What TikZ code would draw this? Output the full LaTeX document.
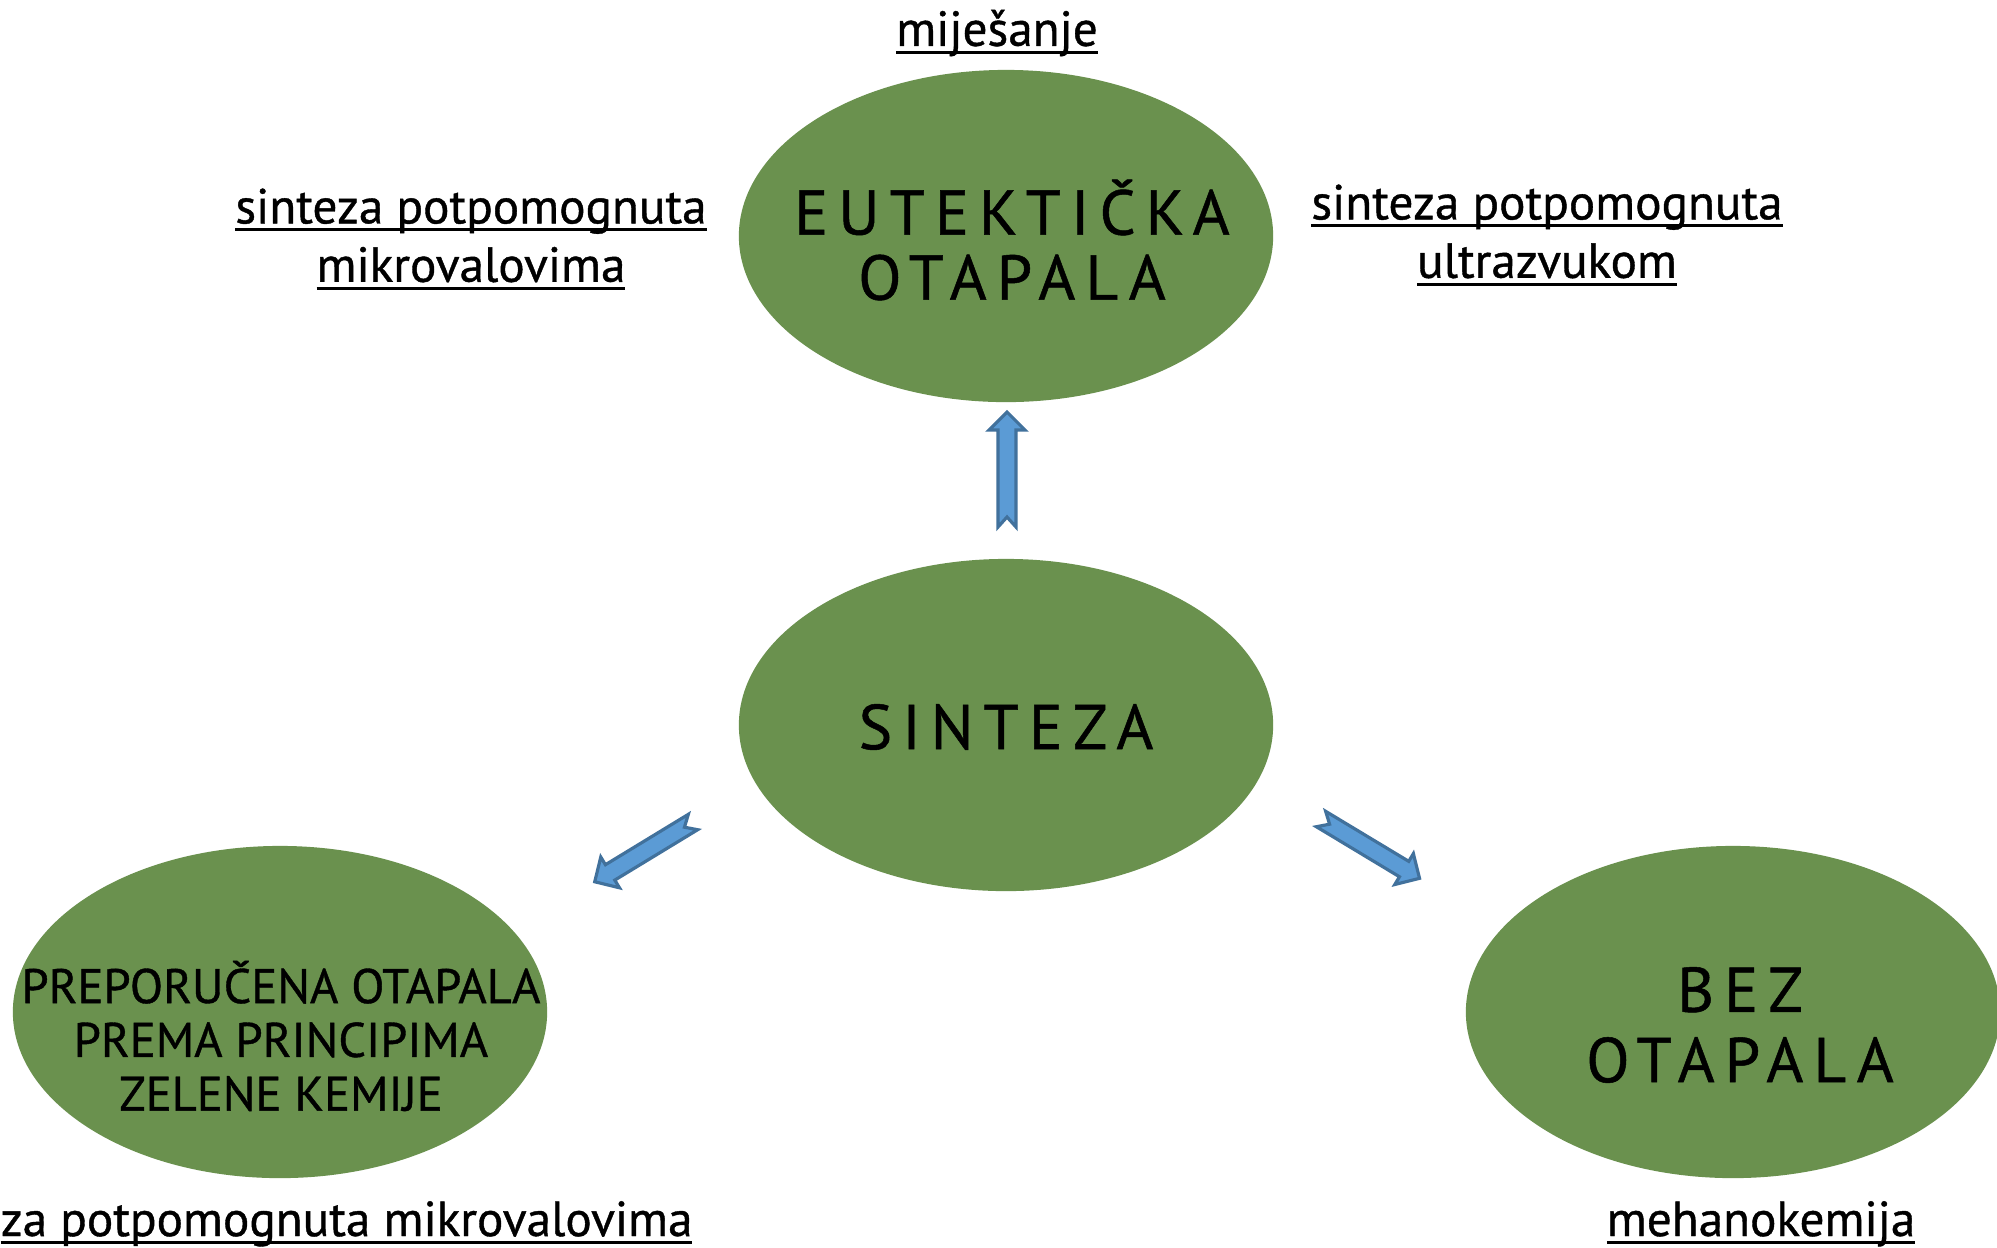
\documentclass[tikz,border=0pt]{standalone}
\usepackage{fontspec}
\setmainfont{PT Sans}[FakeBold=0.8]
\usetikzlibrary{shapes.geometric}
\definecolor{ellgreen}{HTML}{6A914E}
\definecolor{arrfill}{HTML}{5B9BD5}
\definecolor{arrdraw}{HTML}{41719C}
\newcommand\myul[1]{\setbox0\hbox{#1}\rlap{\rule[-2.2pt]{\wd0}{0.75pt}}\box0}
\tikzset{
  blob/.style={ellipse, fill=ellgreen, draw=none, minimum width=5.34cm, minimum height=3.32cm, inner sep=0pt},
  bigtxt/.style={align=center, font=\fontsize{18}{20}\selectfont\addfontfeatures{LetterSpace=16}},
  midtxt/.style={align=center, font=\fontsize{13.8}{15.3}\selectfont},
  ultxt/.style={align=center, inner sep=0pt, font=\fontsize{14}{16.6}\selectfont},
  blockarrow/.pic={
    \filldraw[fill=arrfill, draw=arrdraw, line width=0.9pt, line join=miter]
      (0,-9) -- (97,-9) -- (97,-18) -- (115,0) -- (97,18) -- (97,9) -- (0,9) -- (10,0) -- cycle;
  }
}
\begin{document}
\begin{tikzpicture}[x=0.01cm,y=-0.01cm]
\useasboundingbox (0,0) rectangle (1997,1247);
\fill[white] (0,0) rectangle (1997,1247);
\begin{scope}
\clip (0,0) rectangle (1997,1247);
\node[blob] (eut) at (1006,236) {};
\node[blob] (sin) at (1006,725) {};
\node[blob] (pre) at (280,1012) {};
\node[blob] (bez) at (1733,1012) {};
\end{scope}
\node[bigtxt] (eutt) at (1012,240) {EUTEKTIČKA\\[-1.5pt]OTAPALA};
\node[bigtxt] (sint) at (1006,727) {SINTEZA};
\node[bigtxt] (bezt) at (1740,1025) {BEZ\\OTAPALA};
\node[midtxt] (pret) at (281,1036) {PREPORUČENA OTAPALA\\PREMA PRINCIPIMA\\ZELENE KEMIJE};
\coordinate (a1) at (1007,527);
\coordinate (a2) at (693,822);
\coordinate (a3) at (1321,819);
\pic[rotate=90] at (a1) {blockarrow};
\pic[rotate=211.3] at (a2) {blockarrow};
\pic[rotate=-31.05] at (a3) {blockarrow};
\node[ultxt] (mij) at (997,33) {\myul{miješanje}};
\node[ultxt] (mik) at (471,239) {\myul{sinteza potpomognuta}\\\myul{mikrovalovima}};
\node[ultxt] (ult) at (1547,235) {\myul{sinteza potpomognuta}\\\myul{ultrazvukom}};
\node[ultxt, anchor=base west] (mik2) at (0,1236) {\myul{za potpomognuta mikrovalovima}};
\node[ultxt, anchor=base] (meh) at (1761,1236) {\myul{mehanokemija}};
\end{tikzpicture}
\end{document}
